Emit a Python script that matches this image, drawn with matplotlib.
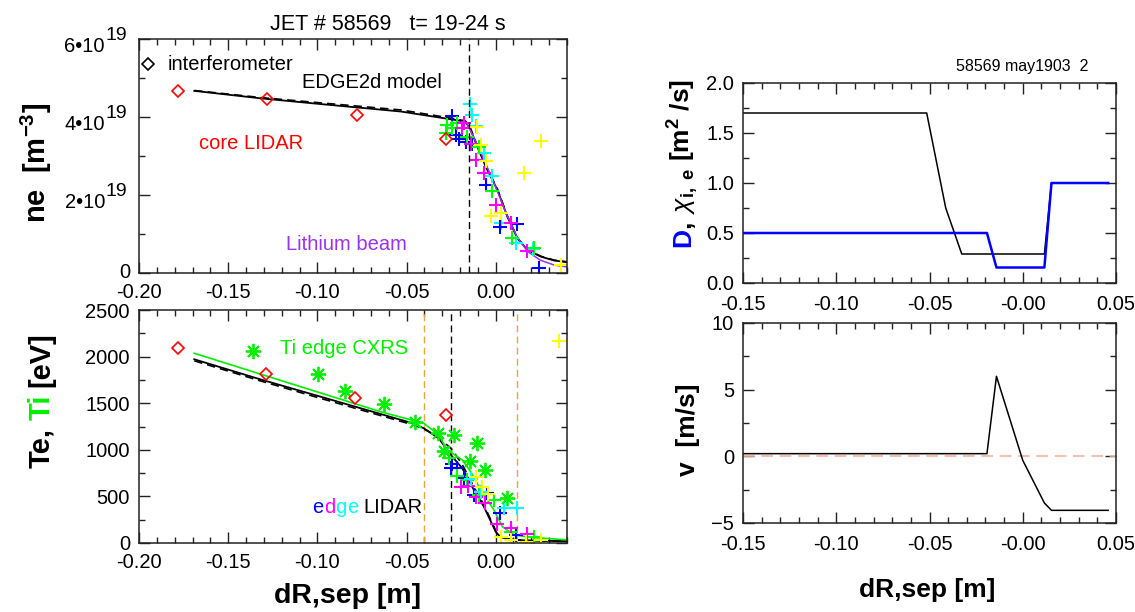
import matplotlib
matplotlib.use('Agg')
import matplotlib.pyplot as plt
from matplotlib.transforms import IdentityTransform
from matplotlib.ticker import MultipleLocator

plt.rcParams['font.family'] = ['Liberation Sans', 'DejaVu Sans']
plt.rcParams['mathtext.fontset'] = 'custom'
plt.rcParams['mathtext.rm'] = 'Liberation Sans'
plt.rcParams['mathtext.it'] = 'Liberation Sans:italic'
plt.rcParams['mathtext.bf'] = 'Liberation Sans:bold'

# ---------------- data: ne (units 1e19 m^-3) ----------------
ne_lidar_x = [-0.178, -0.128, -0.078, -0.028]
ne_lidar_y = [4.67, 4.45, 4.06, 3.43]

ne_model_x = [-0.169, -0.132, -0.100, -0.053, -0.025, -0.017, -0.014, -0.011,
              -0.0056, 0.001, 0.0066, 0.0122, 0.0178, 0.0253, 0.0328, 0.0412]
ne_model_y = [4.67, 4.48, 4.34, 4.14, 3.94, 3.88, 3.67, 3.32,
              2.73, 2.13, 1.44, 0.89, 0.59, 0.42, 0.32, 0.27]
ne_model2_y = [4.68, 4.50, 4.37, 4.18, 3.97, 3.90, 3.70, 3.35,
               2.76, 2.15, 1.46, 0.90, 0.60, 0.43, 0.33, 0.28]

li_x = [-0.016, -0.012, -0.006, 0.0, 0.006, 0.012, 0.018, 0.025, 0.033, 0.041]
li_y = [3.82, 3.45, 2.85, 2.20, 1.52, 0.92, 0.55, 0.33, 0.20, 0.15]

ne_pts = {
    '#00ffff': ([-0.0146, -0.0131, -0.0112, -0.0066, -0.0019, 0.0028, 0.0112, 0.0212],
                [4.33, 4.05, 3.77, 3.07, 2.49, 1.27, 0.76, 0.61]),
    '#0000ff': ([-0.0247, -0.0225, -0.0206, -0.0169, -0.0131, -0.0056, 0.0024, 0.0122, 0.0243],
                [4.03, 3.54, 3.43, 3.37, 3.32, 2.26, 1.17, 1.26, 0.12]),
    '#00ff00': ([-0.0272, -0.0281, -0.0243, -0.0215, -0.0159, -0.0094, -0.0019, 0.0094, 0.0215],
                [3.79, 3.58, 3.71, 3.84, 3.50, 3.24, 2.09, 0.89, 0.63]),
    '#ff00ff': ([-0.0178, -0.0187, -0.0140, -0.0112, -0.0066, 0.0, 0.0084, 0.0174],
                [3.85, 3.71, 3.32, 2.91, 2.56, 1.74, 1.29, 0.57]),
    '#ffff00': ([-0.0103, -0.0084, -0.0056, 0.0159, 0.0253, -0.0024, 0.0028, 0.0365],
                [3.75, 3.28, 2.88, 2.56, 3.39, 1.46, 1.53, 0.21]),
}
ne_sep = [-0.015]

# ---------------- data: Te, Ti (eV) ----------------
te_lidar_x = [-0.178, -0.129, -0.079, -0.028]
te_lidar_y = [2089, 1810, 1560, 1372]

ti_cx_x = [-0.1362, -0.0998, -0.0847, -0.0624, -0.0452, -0.0324, -0.0234,
           -0.0107, -0.0287, -0.0144, -0.0062, 0.0066]
ti_cx_y = [2060, 1813, 1635, 1492, 1293, 1184, 1155, 1076, 990, 883, 783, 486]

te_model_x = [-0.169, -0.132, -0.100, -0.0464, -0.0403, -0.0319, -0.0243, -0.0187,
              -0.0122, -0.0066, 0.0, 0.0028, 0.010, 0.020, 0.041]
te_model_y = [1971, 1756, 1580, 1284, 1231, 1123, 926, 801, 569, 390, 121, 61, 35, 25, 20]
te_model2_y = [1955, 1740, 1562, 1268, 1225, 1135, 1000, 840, 600, 410, 135, 70, 35, 25, 20]

ti_model_x = [-0.169, -0.132, -0.0646, -0.0403, -0.0319, -0.0272, -0.0187, -0.014,
              -0.0084, -0.001, 0.0038, 0.0103, 0.0197, 0.0412]
ti_model_y = [2036, 1813, 1409, 1284, 1159, 998, 891, 765, 569, 354, 175, 86, 61, 32]

te_pts = {
    '#0000ff': ([-0.0243, -0.0215, -0.0253, -0.0178, -0.0122, -0.0051, 0.0024, 0.0112],
                [848, 801, 801, 694, 515, 533, 318, 86]),
    '#00ff00': ([-0.0262, -0.0215, -0.0163, -0.0094, -0.001, 0.0088, 0.0215],
                [909, 719, 676, 515, 461, 121, 68]),
    '#ff00ff': ([-0.0193, -0.0156, -0.0112, -0.0062, 0.0006, 0.0084, 0.0178],
                [604, 612, 497, 432, 204, 158, 97]),
    '#00ffff': ([-0.014, -0.0084, 0.0047, 0.0118],
                [683, 550, 372, 372]),
    '#ffff00': ([-0.0112, -0.0075, -0.0043, 0.0028, 0.0084, 0.0169, 0.0253, 0.0353],
                [705, 598, 526, 68, 32, 14, 32, 2171]),
}
te_sep = [-0.025]
te_ped = [-0.040, 0.012]

# ---------------- data: transport coefficients ----------------
d_x = [-0.15, -0.0192, -0.0141, 0.0116, 0.0154, 0.0458]
d_y = [0.5, 0.5, 0.155, 0.155, 1.0, 1.0]
chi_x = [-0.15, -0.0515, -0.0413, -0.0327, 0.0116, 0.0154, 0.0458]
chi_y = [1.70, 1.70, 0.75, 0.29, 0.29, 1.0, 1.0]
v_x = [-0.15, -0.0192, -0.0141, 0.0, 0.0116, 0.0154, 0.0458]
v_y = [0.2, 0.2, 6.0, -0.3, -3.5, -4.05, -4.05]

left_xticks = [-0.20, -0.15, -0.10, -0.05, 0.00]
left_xlabels = ['-0.20', '-0.15', '-0.10', '-0.05', '0.00']
right_xticks = [-0.15, -0.10, -0.05, 0.00, 0.05]
right_xlabels = ['-0.15', '-0.10', '-0.05', '-0.00', '0.05']
ne_ticks = [0, 2, 4, 6]
te_ticks = [0, 500, 1000, 1500, 2000, 2500]
d_ticks = [0.0, 0.5, 1.0, 1.5, 2.0]
v_ticks = [-5, 0, 5, 10]

W, H = 1135, 612
fig = plt.figure(figsize=(W / 100, H / 100), dpi=100)


def px_axes(l, t, r, b):
    return fig.add_axes([l / W, 1 - b / H, (r - l) / W, (b - t) / H])


def style(ax, xminor, yminor, xpad):
    ax.tick_params(which='both', direction='in', top=True, right=True,
                   labelsize=14.5, width=1.0, colors='#222222', labelcolor='k')
    ax.tick_params(which='major', length=8)
    ax.tick_params(which='minor', length=4)
    ax.tick_params(axis='y', pad=6.5)
    ax.tick_params(axis='x', pad=xpad)
    ax.xaxis.set_minor_locator(MultipleLocator(xminor))
    ax.yaxis.set_minor_locator(MultipleLocator(yminor))
    for s in ax.spines.values():
        s.set_linewidth(1.1)
        s.set_color('#222222')


def rich_text(pieces, cx, cy, size, rotation=0, weight='normal', center=True):
    """pieces: (text, colour, gap before in px); cx, cy in px from top-left."""
    r = fig.canvas.get_renderer()
    arts = []
    for s, c, g in pieces:
        t = fig.text(0, 0, s, color=c, fontsize=size, fontweight=weight,
                     rotation=rotation, rotation_mode='anchor',
                     ha='left', va='baseline', transform=IdentityTransform())
        bb = t.get_window_extent(r)
        arts.append((t, g, bb.height if rotation else bb.width))
    total = sum(g + L for _, g, L in arts)
    em = size * 100 / 72
    if rotation:
        x = cx + 0.36 * em
        pos = (H - cy) - total / 2
        for t, g, L in arts:
            pos += g
            t.set_position((x, pos))
            pos += L
    else:
        y = H - cy - 0.36 * em
        pos = cx - total / 2 if center else cx
        for t, g, L in arts:
            pos += g
            t.set_position((pos, y))
            pos += L


ax_ne = px_axes(139, 39, 567, 273)
ax_te = px_axes(139, 310, 567, 543)
ax_d = px_axes(743, 83, 1116, 283)
ax_v = px_axes(743, 323, 1116, 523)

dash = (5, 3)

# ---- ne panel ----
ax_ne.plot(ne_model_x, ne_model2_y, color='k', lw=1.2, dashes=dash)
ax_ne.plot(ne_model_x, ne_model_y, color='k', lw=1.3)
ax_ne.plot(li_x, li_y, color='#9933ee', lw=1.1)
for c, (xs, ys) in ne_pts.items():
    ax_ne.plot(xs, ys, ls='none', marker='+', color=c, ms=10, mew=1.5)
ax_ne.plot(ne_lidar_x, ne_lidar_y, ls='none', marker='D', mfc='none', mec='#ff0000', ms=6.5, mew=1.2)
for xv in ne_sep:
    ax_ne.axvline(xv, color='k', lw=1.0, dashes=dash)
ax_ne.plot([0.02], [0.894], transform=ax_ne.transAxes, ls='none', marker='D',
           mfc='none', mec='k', ms=6, mew=1.2)
ax_ne.set_xlim(-0.20, 0.04)
ax_ne.set_ylim(0, 6)
ax_ne.set_xticks(left_xticks)
ax_ne.set_xticklabels(left_xlabels)
ax_ne.set_yticks(ne_ticks)
ax_ne.set_yticklabels([''] * len(ne_ticks))
style(ax_ne, 0.01, 1, 7)
for v in ne_ticks:
    if v == 0:
        ax_ne.annotate('0', xy=(0, v), xycoords=('axes fraction', 'data'),
                       xytext=(-6, 0), textcoords='offset points',
                       ha='right', va='center', fontsize=14.5)
    else:
        base = ax_ne.annotate(f'{v}•10', xy=(0, v), xycoords=('axes fraction', 'data'),
                              xytext=(-24.5, -5.5), textcoords='offset points',
                              ha='right', va='center', fontsize=14.5)
        ax_ne.annotate('19', xy=(1, 0.5), xycoords=base, xytext=(0.5, 8),
                       textcoords='offset points', ha='left', va='center', fontsize=14)

# ---- Te panel ----
for xv in te_ped:
    ax_te.axvline(xv, color='#e8a838', lw=1.0, dashes=dash)
for xv in te_sep:
    ax_te.axvline(xv, color='k', lw=1.0, dashes=dash)
ax_te.plot(te_model_x, te_model2_y, color='k', lw=1.2, dashes=dash)
ax_te.plot(te_model_x, te_model_y, color='k', lw=1.3)
ax_te.plot(ti_model_x, ti_model_y, color='#00ee00', lw=1.2)
for c, (xs, ys) in te_pts.items():
    ax_te.plot(xs, ys, ls='none', marker='+', color=c, ms=10, mew=1.5)
ax_te.plot(ti_cx_x, ti_cx_y, ls='none', marker=(8, 2, 0), color='#00ee00', ms=11, mew=1.3)
ax_te.plot(te_lidar_x, te_lidar_y, ls='none', marker='D', mfc='none', mec='#ff0000', ms=6.5, mew=1.2)
ax_te.set_xlim(-0.20, 0.04)
ax_te.set_ylim(0, 2500)
ax_te.set_xticks(left_xticks)
ax_te.set_xticklabels(left_xlabels)
ax_te.set_yticks(te_ticks)
style(ax_te, 0.01, 250, 7)

# ---- D / chi panel ----
ax_d.plot(chi_x, chi_y, color='k', lw=1.1)
ax_d.plot(d_x, d_y, color='#0000ff', lw=1.8)
ax_d.set_xlim(-0.15, 0.05)
ax_d.set_ylim(0, 2)
ax_d.set_xticks(right_xticks)
ax_d.set_xticklabels(right_xlabels)
ax_d.set_yticks(d_ticks)
ax_d.set_yticklabels([f'{t:.1f}' for t in d_ticks])
style(ax_d, 0.01, 0.25, 9)

# ---- v panel ----
ax_v.axhline(0, color='#f0b49c', lw=1.2, dashes=(7, 4))
ax_v.plot(v_x, v_y, color='k', lw=1.1)
ax_v.set_xlim(-0.15, 0.05)
ax_v.set_ylim(-5, 10)
ax_v.set_xticks(right_xticks)
ax_v.set_xticklabels(right_xlabels)
ax_v.set_yticks(v_ticks)
style(ax_v, 0.01, 2.5, 9)

# ---- texts ----
fig.text(388 / W, 1 - 24 / H, 'JET # 58569   t= 19-24 s', ha='center', va='center', fontsize=15.5)
rich_text([('interferometer', 'k', 0)], 168, 63, 14.5, center=False)
rich_text([('EDGE2d model', 'k', 0)], 302, 81, 14.5, center=False)
rich_text([('core LIDAR', '#ff0000', 0)], 199, 142, 14.5, center=False)
rich_text([('Lithium beam', '#9933ee', 0)], 286, 243, 14.5, center=False)
rich_text([('Ti edge CXRS', '#00ee00', 0)], 280, 347, 14.5, center=False)
rich_text([('e', '#0000ff', 0), ('d', '#ff00ff', 0.5), ('g', '#00ffff', 0.5),
           ('e', '#00ffff', 0.5), ('LIDAR', 'k', 5)], 312, 506, 14.5, center=False)
fig.text(956 / W, 1 - 67 / H, '58569 may1903  2', ha='left', va='center', fontsize=11.5)

rich_text([('ne  [m$^{\\mathbf{-3}}$]', 'k', 0)], 35, 163, 21, rotation=90, weight='bold')
rich_text([('Te,', 'k', 0), ('Ti', '#00ee00', 8), ('[eV]', 'k', 8)], 39, 400, 21,
          rotation=90, weight='bold')
rich_text([('dR,sep [m]', 'k', 0)], 348, 593, 20.5, weight='bold')

rich_text([('D', '#0000ff', 0), (',', 'k', 0.5), ('$\\chi_{\\mathbf{i,\\ e}}$', 'k', 6),
           ('[m$^{\\mathbf{2}}$ /s]', 'k', 7)], 681, 163, 19, rotation=90, weight='bold')
rich_text([('v  [m/s]', 'k', 0)], 685, 430, 19, rotation=90, weight='bold')
rich_text([('dR,sep [m]', 'k', 0)], 927, 587, 19, weight='bold')

fig.savefig('out.png', dpi=100)
